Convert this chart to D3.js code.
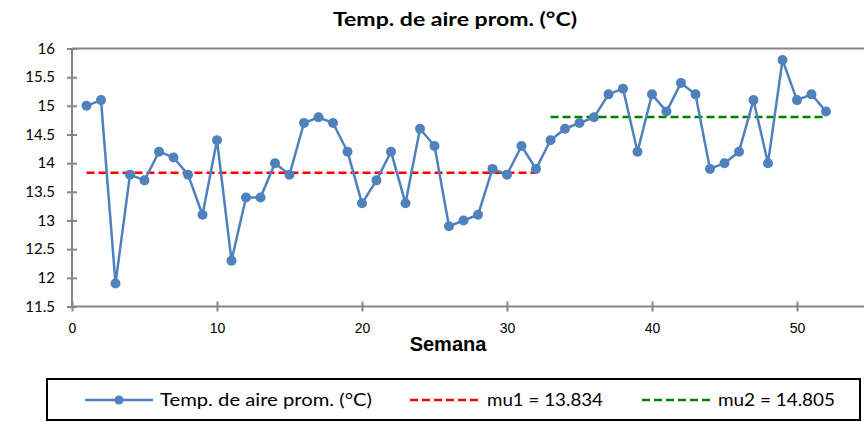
<!DOCTYPE html>
<html><head><meta charset="utf-8">
<script src="https://cdn.jsdelivr.net/npm/d3@7/dist/d3.min.js"></script>
<style>body{margin:0;background:#fff;} svg{display:block;}</style>
</head><body>
<svg id="c" width="864" height="422"></svg>
<script>
const weeks = d3.range(1, 53);
const temps = [15.0,15.1,11.9,13.8,13.7,14.2,14.1,13.8,13.1,14.4,12.3,13.4,13.4,14.0,13.8,14.7,14.8,14.7,14.2,13.3,
               13.7,14.2,13.3,14.6,14.3,12.9,13.0,13.1,13.9,13.8,14.3,13.9,14.4,14.6,14.7,14.8,15.2,15.3,14.2,15.2,
               14.9,15.4,15.2,13.9,14.0,14.2,15.1,14.0,15.8,15.1,15.2,14.9];
const mu1 = 13.834, mu1Range = [1, 32];
const mu2 = 14.805, mu2Range = [33, 52];
const xTicks = [0,10,20,30,40,50];
const yTicks = [11.5,12,12.5,13,13.5,14,14.5,15,15.5,16];
const title = "Temp. de aire prom. (°C)";
const xLabel = "Semana";
const legendLabels = ["Temp. de aire prom. (°C)", "mu1 = 13.834", "mu2 = 14.805"];

const svg = d3.select("#c");
const x = d3.scaleLinear().domain([0, 50]).range([72, 797]);
const y = d3.scaleLinear().domain([11.5, 16]).range([306.5, 48.5]);
const axisColor = "#868686";
const calibri = "Lato, 'Open Sans', sans-serif";

// top border
svg.append("line").attr("x1", 72).attr("x2", 864).attr("y1", y(16)).attr("y2", y(16))
  .attr("stroke", axisColor).attr("stroke-width", 2);

// y axis
const yAxis = svg.append("g").attr("transform", `translate(${x(0)},0)`)
  .call(d3.axisLeft(y).tickValues(yTicks).tickSize(5).tickPadding(12).tickFormat(d3.format("")));
yAxis.select(".domain").remove();
yAxis.selectAll(".tick line").attr("x1", -5).attr("x2", 5).attr("stroke", axisColor).attr("stroke-width", 2);
yAxis.selectAll("text").attr("font-family", calibri).attr("font-size", 15).attr("fill", "#000");
svg.append("line").attr("x1", x(0)).attr("x2", x(0)).attr("y1", y(16)).attr("y2", y(11.5))
  .attr("stroke", axisColor).attr("stroke-width", 2);

// x axis
const xAxis = svg.append("g").attr("transform", `translate(0,${y(11.5)})`)
  .call(d3.axisBottom(x).tickValues(xTicks).tickSize(5).tickPadding(12));
xAxis.select(".domain").remove();
xAxis.selectAll(".tick line").attr("y1", -5).attr("y2", 5).attr("stroke", axisColor).attr("stroke-width", 2);
xAxis.selectAll("text").attr("font-family", "'Liberation Sans Narrow', 'Liberation Sans', Arial, sans-serif")
  .attr("font-size", 14).attr("fill", "#000");
svg.append("line").attr("x1", x(0)).attr("x2", 864).attr("y1", y(11.5)).attr("y2", y(11.5))
  .attr("stroke", axisColor).attr("stroke-width", 2);

// mean lines
svg.append("line").attr("x1", x(mu1Range[0])).attr("x2", x(mu1Range[1]))
  .attr("y1", y(mu1)).attr("y2", y(mu1))
  .attr("stroke", "#ff0000").attr("stroke-width", 2.5).attr("stroke-dasharray", "8,4");
svg.append("line").attr("x1", x(mu2Range[0])).attr("x2", x(mu2Range[1]))
  .attr("y1", y(mu2)).attr("y2", y(mu2))
  .attr("stroke", "#008000").attr("stroke-width", 2.5).attr("stroke-dasharray", "8,4");

// series
const data = weeks.map((w, i) => ({w, v: temps[i]}));
const blue = "#4f81bd";
svg.append("path").datum(data)
  .attr("d", d3.line().x(d => x(d.w)).y(d => y(d.v)))
  .attr("fill", "none").attr("stroke", blue).attr("stroke-width", 2.5).attr("stroke-linejoin", "round");
svg.append("g").selectAll("circle").data(data).join("circle")
  .attr("cx", d => x(d.w)).attr("cy", d => y(d.v)).attr("r", 5).attr("fill", blue);

// title
svg.append("text").attr("x", 333).attr("y", 26)
  .attr("textLength", 244).attr("lengthAdjust", "spacingAndGlyphs")
  .attr("font-family", calibri).attr("font-weight", "bold").attr("font-size", 18).text(title);

// x label
svg.append("text").attr("x", 448).attr("y", 351).attr("text-anchor", "middle")
  .attr("font-family", "'Liberation Sans', Arial, sans-serif").attr("font-weight", "bold")
  .attr("font-size", 20).text(xLabel);

// legend
const lg = svg.append("g");
lg.append("rect").attr("x", 47).attr("y", 379).attr("width", 813).attr("height", 41)
  .attr("fill", "#fff").attr("stroke", "#000").attr("stroke-width", 2);
const ly = 400;
lg.append("line").attr("x1", 85).attr("x2", 153).attr("y1", ly).attr("y2", ly)
  .attr("stroke", blue).attr("stroke-width", 2.5);
lg.append("circle").attr("cx", 119).attr("cy", ly).attr("r", 4.5).attr("fill", blue);
lg.append("line").attr("x1", 410).attr("x2", 478).attr("y1", ly).attr("y2", ly)
  .attr("stroke", "#ff0000").attr("stroke-width", 2.5).attr("stroke-dasharray", "8,4");
lg.append("line").attr("x1", 642).attr("x2", 710).attr("y1", ly).attr("y2", ly)
  .attr("stroke", "#008000").attr("stroke-width", 2.5).attr("stroke-dasharray", "8,4");
const lx = [160, 487, 718];
const lw = [212, 116, 117];
legendLabels.forEach((t, i) => {
  lg.append("text").attr("x", lx[i]).attr("y", ly + 6).attr("font-family", calibri)
    .attr("textLength", lw[i]).attr("lengthAdjust", "spacingAndGlyphs")
    .attr("font-size", 17).attr("fill", "#000").text(t);
});
</script>
</body></html>
